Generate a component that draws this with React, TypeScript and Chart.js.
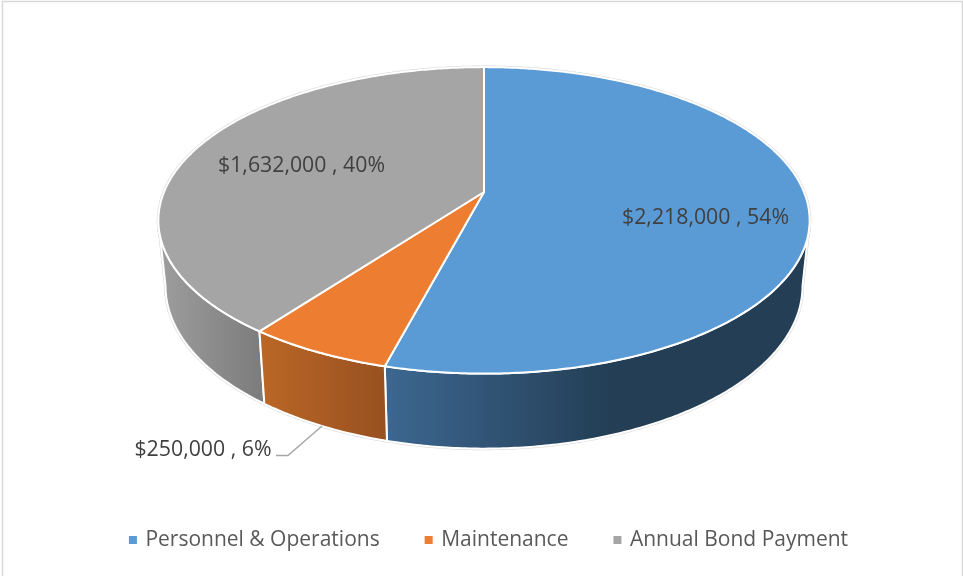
import React, { useEffect, useRef } from "react";
import { Chart, registerables } from "chart.js";

Chart.register(...registerables);

const categories = ["Personnel & Operations", "Maintenance", "Annual Bond Payment"];
const budgetValues = [2218000, 250000, 1632000];
const percentLabels = ["54%", "6%", "40%"];
const sliceColors = ["#5B9BD5", "#ED7D31", "#A5A5A5"];

// Layout of the drawing, not data
const labelAnchors = [
  [705.5, 218],
  [203, 450],
  [301.5, 166],
];
const wallStops = [
  { x0: 385, x1: 610, c0: "#3D6791", c1: "#233E55" },
  { x0: 262, x1: 390, c0: "#BA6626", c1: "#975020" },
  { x0: 165, x1: 262, c0: "#9C9C9C", c1: "#7C7C7C" },
];
const CX = 484;
const K = 0.185;
const TOP = { cy: 192, a: 320, b: 148 };
const LOW = { cy: 256, a: 313, b: 157 };

const project = (theta: number, disc: { cy: number; a: number; b: number }) => {
  const s = Math.sin(theta);
  const u = -Math.cos(theta);
  const w = 1 - K * u;
  return [CX + (disc.a * s) / w, disc.cy + (disc.b * u) / w];
};

const rim = (t0: number, t1: number, disc: typeof TOP) => {
  const n = Math.max(2, Math.ceil(Math.abs(t1 - t0) / 0.01));
  const pts: number[][] = [];
  for (let i = 0; i <= n; i++) pts.push(project(t0 + ((t1 - t0) * i) / n, disc));
  return pts;
};

const tracePoly = (ctx: CanvasRenderingContext2D, pts: number[][]) => {
  ctx.beginPath();
  pts.forEach((p, i) => (i ? ctx.lineTo(p[0], p[1]) : ctx.moveTo(p[0], p[1])));
  ctx.closePath();
};

const pie3d = {
  id: "pie3d",
  beforeDatasetsDraw(chart: any) {
    const ctx: CanvasRenderingContext2D = chart.ctx;
    const arcs = chart.getDatasetMeta(0).data;
    const spans = arcs.map((a: any) => [a.startAngle + Math.PI / 2, a.endAngle + Math.PI / 2]);
    const vis0 = Math.acos(-K);
    const vis1 = 2 * Math.PI - vis0;

    const tops = spans.map(([t0, t1]: number[]) => [[CX, TOP.cy], ...rim(t0, t1, TOP)]);
    const walls = spans.map(([t0, t1]: number[]) => {
      const a = Math.max(t0, vis0);
      const b = Math.min(t1, vis1);
      return [...rim(a, b, TOP), ...rim(b, a, LOW)];
    });

    ctx.save();
    ctx.lineJoin = "round";
    ctx.strokeStyle = "#DADADA";
    ctx.lineWidth = 3.2;
    [...tops, ...walls].forEach((p: number[][]) => {
      tracePoly(ctx, p);
      ctx.stroke();
    });

    ctx.strokeStyle = "#FFFFFF";
    ctx.lineWidth = 2;
    [2, 0, 1].forEach((i) => {
      const g = ctx.createLinearGradient(wallStops[i].x0, 0, wallStops[i].x1, 0);
      g.addColorStop(0, wallStops[i].c0);
      g.addColorStop(1, wallStops[i].c1);
      ctx.fillStyle = g;
      tracePoly(ctx, walls[i]);
      ctx.fill();
      ctx.stroke();
    });
    tops.forEach((p: number[][], i: number) => {
      ctx.fillStyle = sliceColors[i];
      tracePoly(ctx, p);
      ctx.fill();
      ctx.stroke();
    });

    // leader line for the small slice
    ctx.strokeStyle = "#A6A6A6";
    ctx.lineWidth = 1.5;
    ctx.beginPath();
    ctx.moveTo(276, 455.5);
    ctx.lineTo(288, 455.5);
    ctx.lineTo(322, 426);
    ctx.stroke();

    // data labels
    ctx.fillStyle = "#404040";
    ctx.font = '21.3px "Open Sans"';
    ctx.textAlign = "center";
    ctx.textBaseline = "middle";
    budgetValues.forEach((v, i) => {
      const text = "$" + v.toLocaleString("en-US") + " , " + percentLabels[i];
      ctx.fillText(text, labelAnchors[i][0], labelAnchors[i][1]);
    });
    ctx.restore();
    return false;
  },
  beforeDraw(chart: any) {
    const ctx: CanvasRenderingContext2D = chart.ctx;
    ctx.save();
    ctx.strokeStyle = "#D9D9D9";
    ctx.lineWidth = 1.5;
    ctx.strokeRect(2.5, 1.5, 960, 640);
    ctx.restore();
  },
  afterLayout(chart: any) {
    const l = chart.legend;
    l.top = 540 - 10.5 - l.options.labels.padding;
  },
};

export default function App() {
  const ref = useRef<HTMLCanvasElement>(null);
  useEffect(() => {
    const chart = new Chart(ref.current as HTMLCanvasElement, {
      type: "pie",
      data: {
        labels: categories,
        datasets: [{ data: budgetValues, backgroundColor: sliceColors, borderWidth: 0 }],
      },
      plugins: [pie3d as any],
      options: {
        animation: false,
        responsive: false,
        devicePixelRatio: 1,
        layout: { padding: { left: 16 } },
        plugins: {
          tooltip: { enabled: false },
          title: { display: false },
          legend: {
            position: "bottom",
            labels: {
              usePointStyle: true,
              pointStyle: "rect",
              boxWidth: 4,
              boxHeight: 8,
              padding: 47,
              color: "#595959",
              font: { family: '"Open Sans"', size: 21 },
            },
          },
        },
      },
    } as any);
    return () => chart.destroy();
  }, []);
  return (
    <div style={{ position: "fixed", left: 0, top: 0, width: 963, height: 576, background: "#fff" }}>
      <canvas ref={ref} width={963} height={576} style={{ display: "block" }} />
    </div>
  );
}
